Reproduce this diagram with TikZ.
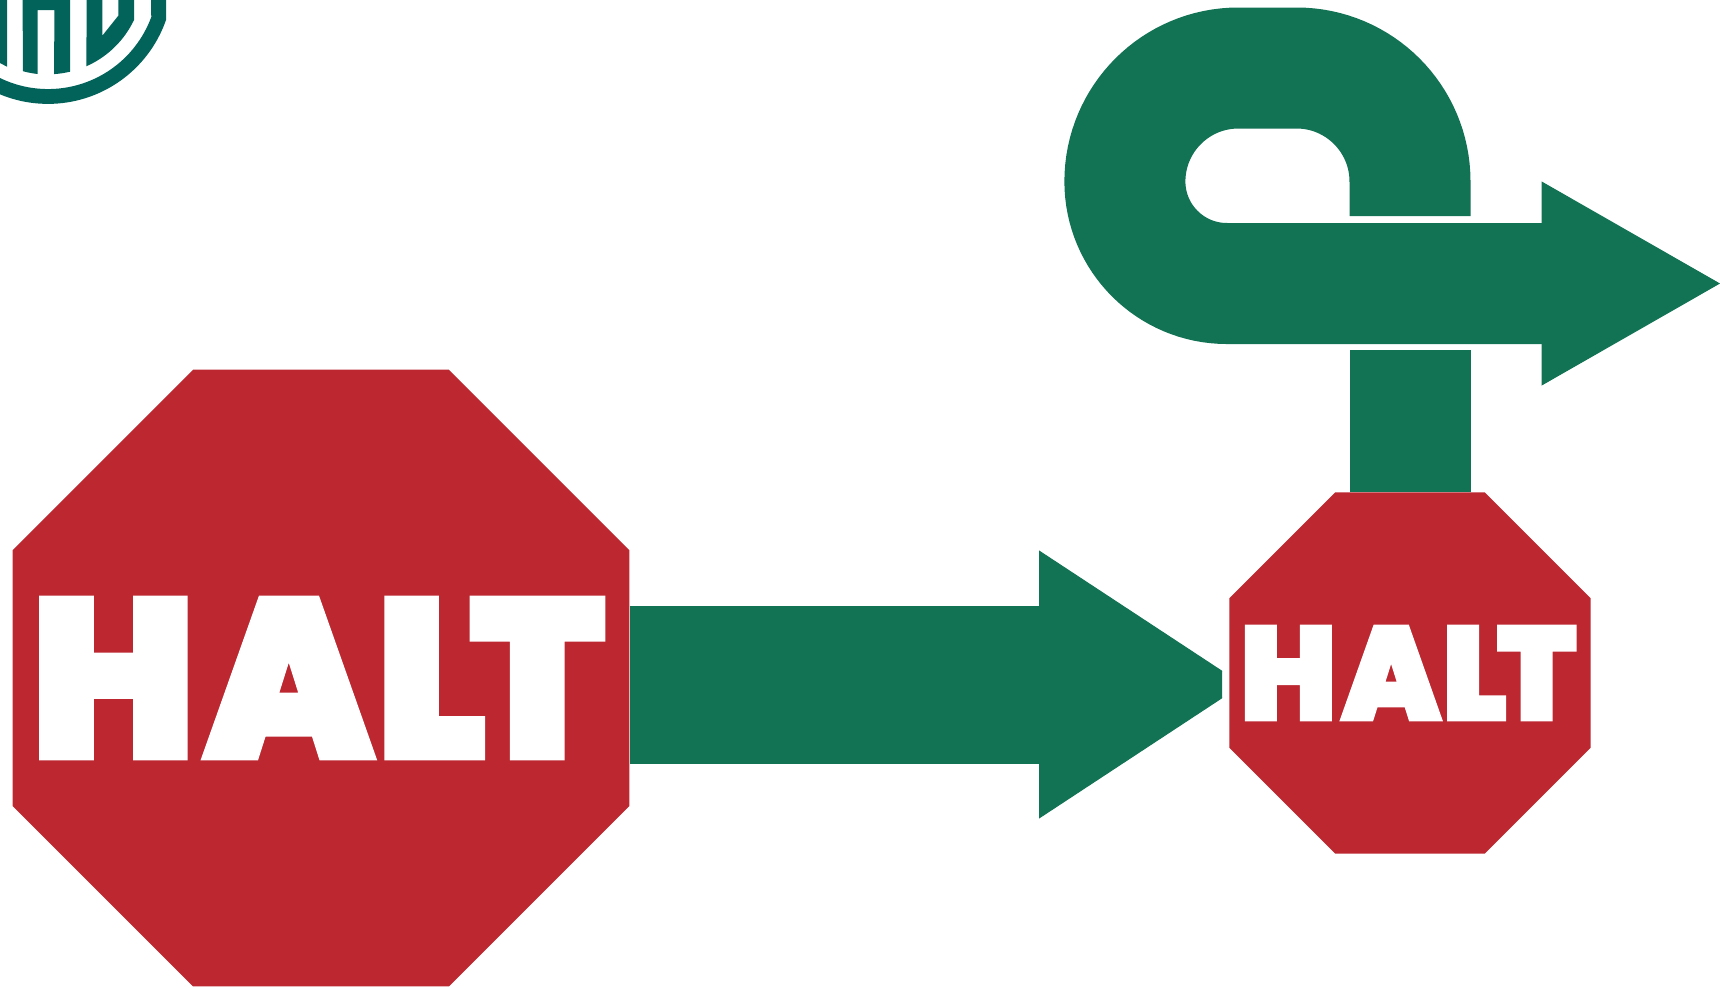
\documentclass[tikz,border=0pt]{standalone}
\usepackage{graphicx}
\usepackage{fontspec}
\usetikzlibrary{arrows.meta,shapes.geometric}
\newfontfamily\haltfont[FakeBold=3]{Poppins Black}
\definecolor{flowgreen}{HTML}{127254}
\definecolor{haltred}{HTML}{BC2730}
\definecolor{logoteal}{HTML}{02635B}
\newcommand{\haltword}[2]{\resizebox{#1}{#2}{\haltfont H\kern.046em A\kern.019em L\kern-.073em T}}

\begin{document}
\begin{tikzpicture}[
  x=0.5pt, y=-0.5pt,
  octa/.style={regular polygon,regular polygon sides=8,fill=haltred,inner sep=0pt,outer sep=0pt},
  haltlab/.style={text=white,inner sep=0pt},
  flow/.style={draw=flowgreen,line width=60.5pt},
  logo/.style={fill=logoteal,draw=none}]
\useasboundingbox (0,0) rectangle (1720,987);
% logo cut off by the top edge
\fill[logo] (166,0) -- (166,20) arc[start angle=19.2,end angle=112.6,radius=125] -- (0,78) arc[start angle=115.9,end angle=20.2,radius=110] -- (151,0) -- cycle;
\fill[logo] (0,0) -- (7,0) -- (7,66.7) -- (0,63) -- cycle;
\fill[logo] (22.7,0) -- (70,0) -- (70,71.7) arc[start angle=76.6,end angle=86.2,radius=95.5] -- (54.3,10) -- (37.7,10) -- (37.7,74) arc[start angle=96.2,end angle=105.3,radius=95.5] -- cycle;
\fill[logo] (86.7,0) -- (102.3,0) -- (102.3,35.7) -- (118.3,15.7) -- (118.3,0) -- (134,0) -- (134,20) arc[start angle=25.5,end angle=66.2,radius=95.5] -- cycle;
% signs
\node[octa,minimum size=333.9pt] (haltbig) at (321,678) {};
\node[haltlab,xshift=-1.6pt] (haltbigtext) at (haltbig) {\haltword{286pt}{79pt}};
\node[octa,minimum size=195.4pt] (haltsmall) at (1410,673) {};
\node[haltlab,xshift=-0.95pt] (haltsmalltext) at (haltsmall) {\haltword{167.6pt}{46.3pt}};
% straight arrow, tip stops short of the small sign
\coordinate (flowfrom) at ([yshift=-3.25pt]haltbig.east);
\coordinate (flowto) at (1243,684.5);
\begin{scope}
\clip (0,0) rectangle (1222,987);
\draw[flow,line width=79pt,-{Triangle[length=102pt,width=134pt,line width=0.5pt]}] (flowfrom) -- (flowto);
\end{scope}
% loop arrow, broken where it crosses itself
\coordinate (stubtop) at (1410,350);
\coordinate (looptail) at (1410,216);
\coordinate (looptip) at (1720,283.5);
\draw[flow] (haltsmall.north) -- (stubtop);
\draw[flow,-{Triangle[length=89.15pt,width=101.9pt,line width=0.5pt]}] (looptail) -- (1410,181.5)
  arc[start angle=0,end angle=-90,radius=113.5] -- (1238.4,68)
  arc[start angle=-90,end angle=-180,radius=113.5]
  arc[start angle=180,end angle=90,radius=102] -- (looptip);
\end{tikzpicture}
\end{document}
